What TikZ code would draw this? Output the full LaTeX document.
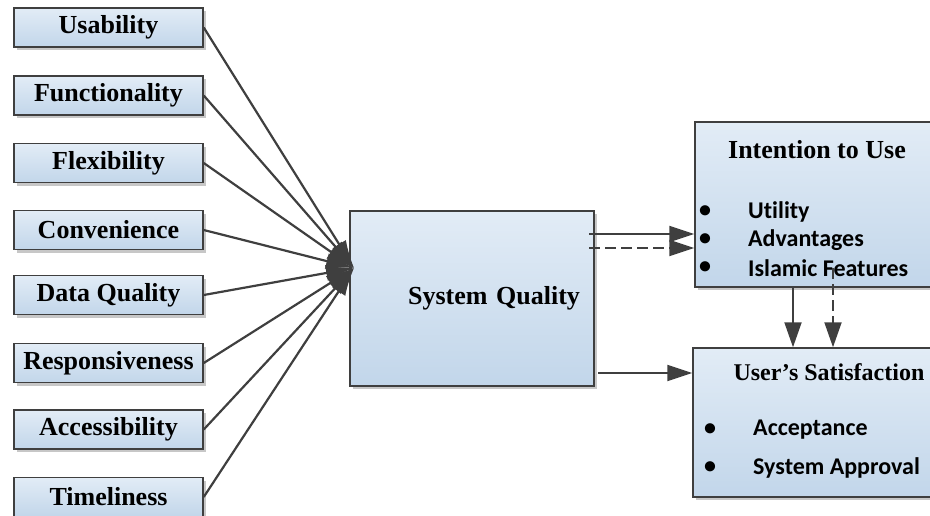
\documentclass[tikz,border=0pt]{standalone}
\usepackage{fontspec}
\setmainfont{Liberation Serif}
\newfontfamily\calib[Ligatures=NoCommon]{Carlito}
\usetikzlibrary{arrows.meta,shadows,calc}
\definecolor{boxtop}{HTML}{E2ECF6}
\definecolor{boxbot}{HTML}{C2D6EA}
\definecolor{edge}{HTML}{3F3F3F}
\begin{document}
\begin{tikzpicture}[x=1pt,y=-1pt,
  qbox/.style={draw=edge, line width=1.5pt, top color=boxtop, bottom color=boxbot,
    drop shadow={shadow xshift=3pt,shadow yshift=-3pt,opacity=0.22,fill=black}},
  small/.style={qbox, minimum width=189pt, minimum height=39pt, inner sep=0pt,
    font=\bfseries\fontsize{26}{28}\selectfont},
  feed/.style={draw=edge, line width=2.2pt, -{Latex[length=28pt,width=16pt]}},
  link/.style={draw=edge, line width=2pt, -{Triangle[length=25pt,width=16pt]}},
  ttl/.style={font=\bfseries\fontsize{26}{28}\selectfont, inner sep=0pt},
  bul/.style={font=\calib\bfseries\fontsize{24}{26}\selectfont, inner sep=0pt},
  item/.style={font=\calib\bfseries\fontsize{24}{26}\selectfont, inner sep=0pt, anchor=west}]
\useasboundingbox (0,0) rectangle (930,515);
\clip (0,0) rectangle (930,515);

% left factor boxes
\node[small] (usa) at (108.5,27.5) {Usability};
\node[small] (fun) at (108.5,95.5) {Functionality};
\node[small] (fle) at (108.5,163) {Flexibility};
\node[small] (con) at (108.5,230) {Convenience};
\node[small] (dat) at (108.5,295) {Data Quality};
\node[small] (res) at (108.5,363) {Responsiveness};
\node[small] (acc) at (108.5,429.5) {Accessibility};
\node[small] (tim) at (108.5,497) {Timeliness};

% system quality
\node[qbox, minimum width=244pt, minimum height=175pt, inner sep=0pt, text width=216pt,
  align=right, font=\bfseries\fontsize{26}{28}\selectfont] (sq) at (472,298.5) {System Quality};

% intention to use
\node[qbox, minimum width=240pt, minimum height=165pt, inner sep=0pt] (int) at (815,204.5) {};
\node[ttl] (intt) at (817,150) {Intention to Use};
\node[bul] (ib1) at (705,212) {•};
\node[bul] (ib2) at (705,240) {•};
\node[bul] (ib3) at (705,268) {•};
\node[item] (ii1) at (748,212) {Utility};
\node[item] (ii2) at (748,240) {Advantages};
\node[item] (ii3) at (748,268) {Islamic Features};

% user's satisfaction
\node[qbox, minimum width=242pt, minimum height=149pt, inner sep=0pt] (us) at (814,422.5) {};
\node[ttl, font=\bfseries\fontsize{24}{26}\selectfont] (ust) at (829,372) {User’s Satisfaction};
\node[bul] (ub1) at (710,430) {•};
\node[bul] (ub2) at (710,468) {•};
\node[item] (ui1) at (753,430) {Acceptance};
\node[item] (ui2) at (753,468) {System Approval};

% feeders
\coordinate (hub) at (354,268);
\foreach \n in {usa,fun,fle,con,dat,res,acc,tim}
  \draw[feed] (\n.east) -- (hub);

% links
\coordinate (a1) at (589,234);
\coordinate (a2) at (589,248);
\coordinate (a3) at (598,373);
\draw[link] (a1) -- (a1 -| int.west);
\draw[link, dash pattern=on 11pt off 5pt] (a2) -- (a2 -| int.west);
\draw[link] (a3) -- (a3 -| us.west);

\coordinate (v1) at (793,287);
\coordinate (v2) at (833,268);
\draw[link, -{Triangle[length=25pt,width=17pt]}] (v1 |- int.south) -- (v1 |- us.north);
\draw[link, -{Triangle[length=25pt,width=17pt]}, dash pattern=on 11pt off 5pt] (v2) -- (v2 |- us.north);
\end{tikzpicture}
\end{document}
